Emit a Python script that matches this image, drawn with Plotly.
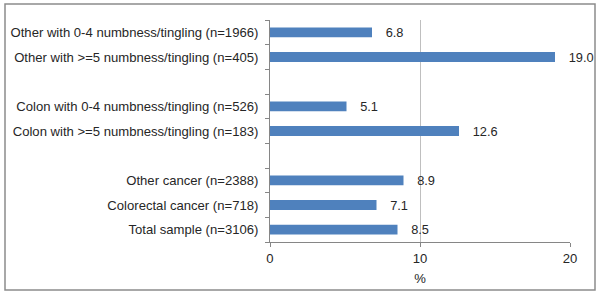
import plotly.graph_objects as go

categories = [
    "Total sample (n=3106)",
    "Colorectal cancer (n=718)",
    "Other cancer (n=2388)",
    " ",
    "Colon with >=5 numbness/tingling (n=183)",
    "Colon with 0-4 numbness/tingling (n=526)",
    "  ",
    "Other with >=5 numbness/tingling (n=405)",
    "Other with 0-4 numbness/tingling (n=1966)",
]
values = [8.5, 7.1, 8.9, None, 12.6, 5.1, None, 19.0, 6.8]
x_ticks = [0, 10, 20]

font = "Liberation Sans, Arial, sans-serif"
fs = 13.1

fig = go.Figure(go.Bar(
    x=values, y=categories, orientation="h",
    marker=dict(color="#4F81BD", line=dict(width=0)),
    texttemplate="   %{x:.1f}", textposition="outside",
    textfont=dict(family=font, size=12.8, color="#262626"),
    constraintext="none",
    cliponaxis=False,
))

L, R, T, B = 270, 32, 20, 54
W, H = 602, 296
pw, ph = W - L - R, H - T - B

fig.update_layout(
    width=W, height=H,
    margin=dict(l=L, r=R, t=T, b=B, autoexpand=False),
    paper_bgcolor="white", plot_bgcolor="white",
    showlegend=False, bargap=0.6,
    font=dict(family=font, size=fs, color="#262626"),
    xaxis=dict(
        range=[0, 20], tickvals=x_ticks, ticktext=[str(v) for v in x_ticks],
        showgrid=True, gridcolor="#BFBFBF", gridwidth=1,
        showline=True, linecolor="#868686", linewidth=1,
        ticks="outside", ticklen=4, tickcolor="#868686",
        zeroline=False, automargin=False,
        title=dict(text="%", font=dict(size=fs), standoff=9),
        tickfont=dict(size=fs),
    ),
    yaxis=dict(
        type="category", categoryorder="array", categoryarray=categories,
        tickson="boundaries", ticks="outside", ticklen=4, tickcolor="#868686",
        showline=True, linecolor="#868686", linewidth=1,
        showgrid=False, zeroline=False, automargin=False,
        tickfont=dict(size=fs), ticklabelstandoff=8,
    ),
    shapes=[dict(
        type="rect", xref="paper", yref="paper",
        x0=(5 - L) / pw, x1=(595 - L) / pw,
        y0=(H - B - 290) / ph, y1=(H - B - 4) / ph,
        line=dict(color="#8C8C8C", width=1.5), fillcolor="rgba(0,0,0,0)",
        layer="below",
    )],
)

fig.write_html(
    "out.html",
    config={"displayModeBar": False},
    post_script="document.body.style.margin='0';document.body.style.overflow='hidden';",
)
